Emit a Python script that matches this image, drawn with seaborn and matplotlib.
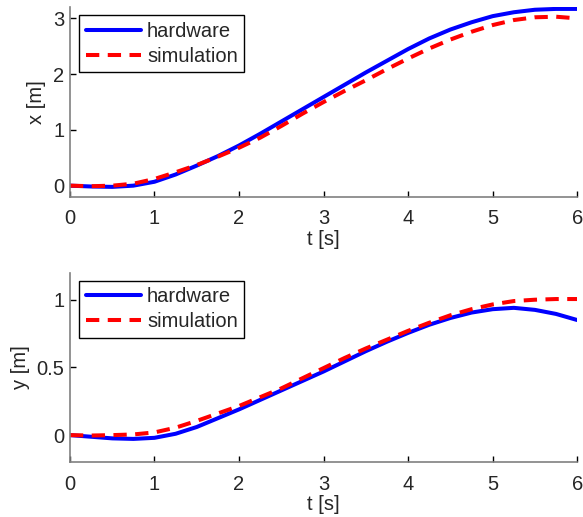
import matplotlib
matplotlib.use('Agg')
import matplotlib.pyplot as plt
import numpy as np
import pandas
import seaborn as sns

# time samples
t = [0, 0.25, 0.5, 0.75, 1.0, 1.25, 1.5, 1.75, 2.0, 2.25, 2.5, 2.75, 3.0, 3.25, 3.5, 3.75,
     4.0, 4.25, 4.5, 4.75, 5.0, 5.25, 5.5, 5.75, 6.0]

x_hw = [0.0, -0.015, -0.022, 0.0, 0.07, 0.20, 0.36, 0.53, 0.72, 0.93, 1.15, 1.37, 1.59,
        1.81, 2.03, 2.24, 2.45, 2.64, 2.80, 2.93, 3.04, 3.11, 3.155, 3.17, 3.17]
x_sim = [0.0, -0.01, 0.0, 0.035, 0.12, 0.24, 0.37, 0.52, 0.68, 0.86, 1.07, 1.29, 1.50,
         1.70, 1.89, 2.09, 2.28, 2.46, 2.62, 2.76, 2.88, 2.97, 3.02, 3.03, 3.00]

y_hw = [0.0, -0.012, -0.024, -0.028, -0.02, 0.01, 0.06, 0.125, 0.19, 0.26, 0.33, 0.40, 0.47,
        0.545, 0.62, 0.69, 0.755, 0.815, 0.865, 0.905, 0.93, 0.94, 0.925, 0.895, 0.85]
y_sim = [0.0, -0.003, 0.0, 0.005, 0.02, 0.055, 0.105, 0.16, 0.215, 0.28, 0.345, 0.42, 0.495,
         0.57, 0.64, 0.705, 0.77, 0.83, 0.885, 0.93, 0.965, 0.99, 1.0, 1.005, 1.005]

sns.set_style('white')
plt.rcParams['font.family'] = ['Liberation Sans', 'DejaVu Sans']
plt.rcParams['font.size'] = 14.5


def panel(ax, hw, sim, ylabel, ylim, yticks, yticklabels):
    df = pandas.DataFrame({'t': t + t, 'v': hw + sim,
                           'src': ['hardware'] * len(t) + ['simulation'] * len(t)})
    sns.lineplot(data=df, x='t', y='v', hue='src', style='src',
                 palette={'hardware': '#0000ff', 'simulation': '#ff0000'},
                 dashes={'hardware': '', 'simulation': (3.3, 2.1)},
                 linewidth=2.9, ax=ax)
    ax.set_xlim(0, 6)
    ax.set_ylim(*ylim)
    ax.set_xticks(range(7))
    ax.set_yticks(yticks)
    ax.set_yticklabels(yticklabels)
    ax.set_xlabel('t [s]', labelpad=1)
    ax.set_ylabel(ylabel, labelpad=5)
    for s in ['top', 'right']:
        ax.spines[s].set_visible(False)
    for s in ['left', 'bottom']:
        ax.spines[s].set_color('#808080')
        ax.spines[s].set_linewidth(1.2)
    ax.tick_params(axis='both', direction='in', length=4, width=1, color='black',
                   labelsize=14.5, bottom=True, left=True)
    ax.tick_params(axis='x', pad=9)
    ax.tick_params(axis='y', pad=4)
    leg = ax.legend(loc='upper left', bbox_to_anchor=(0.018, 0.958), fancybox=False,
                    edgecolor='black', framealpha=1, fontsize=14.5, handlelength=2.75,
                    borderpad=0.32, labelspacing=0.3, handletextpad=0.3, borderaxespad=0.0)
    leg.get_frame().set_linewidth(1)


fig, (ax1, ax2) = plt.subplots(2, 1, figsize=(5.83, 5.17), dpi=100)
fig.subplots_adjust(left=0.12, right=0.99, top=0.986, bottom=0.106, hspace=0.40)

panel(ax1, x_hw, x_sim, 'x [m]', (-0.2, 3.2), [0, 1, 2, 3], ['0', '1', '2', '3'])
panel(ax2, y_hw, y_sim, 'y [m]', (-0.2, 1.2), [0, 0.5, 1], ['0', '0.5', '1'])

plt.savefig('out.png', dpi=100)
